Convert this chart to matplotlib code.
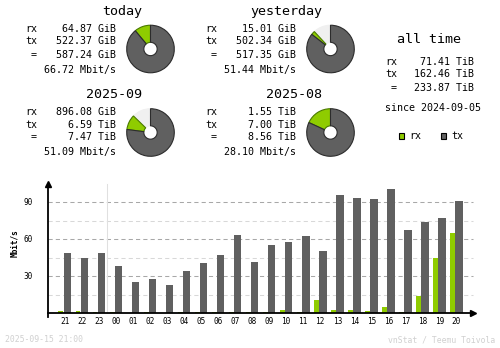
import numpy as np
import matplotlib
matplotlib.use("Agg")
import matplotlib.pyplot as plt

plt.rcParams['font.family'] = ['DejaVu Sans Mono']

RX_COLOR = "#8fcc00"
TX_COLOR = "#606060"
GAP_COLOR = "#f0f0f0"

# summary blocks
periods = ["today", "yesterday", "2025-09", "2025-08"]
rx_vals = [64.87, 15.01, 896.08, 1.55]
rx_units = ["GiB", "GiB", "GiB", "TiB"]
tx_vals = [522.37, 502.34, 6.59, 7.00]
tx_units = ["GiB", "GiB", "TiB", "TiB"]
tot_vals = [587.24, 517.35, 7.47, 8.56]
tot_units = ["GiB", "GiB", "TiB", "TiB"]
rates = [66.72, 51.44, 51.09, 28.10]

alltime_rx = 71.41
alltime_tx = 162.46
alltime_tot = 233.87
since = "2024-09-05"

# hourly average rates, Mbit/s
hours = ["21", "22", "23", "00", "01", "02", "03", "04", "05", "06", "07", "08",
         "09", "10", "11", "12", "13", "14", "15", "16", "17", "18", "19", "20"]
rx_rate = [1.6, 1.6, 0.8, 0.8, 0.0, 0.8, 0.0, 0.8, 0.8, 0.8, 0.8, 0.8,
           0.8, 2.5, 0.8, 10.8, 2.5, 2.5, 1.6, 5.0, 0.8, 14.0, 44.8, 65.1]
tx_rate = [48.9, 44.8, 48.9, 38.4, 25.4, 27.8, 23.0, 34.3, 40.8, 47.3, 63.5, 41.6,
           55.4, 57.8, 62.7, 50.5, 95.9, 93.5, 92.7, 100.8, 67.6, 74.1, 77.3, 91.1]

W, H = 500, 348
fig = plt.figure(figsize=(W / 100, H / 100), dpi=100)
fig.patch.set_facecolor("white")

# pixel-space canvas for text
bg = fig.add_axes([0, 0, 1, 1])
bg.set_xlim(0, W)
bg.set_ylim(H, 0)
bg.axis("off")


def to_tib(v, u):
    return v / 1024 if u == "GiB" else v


def pie_at(cx, cy, r, gap, rx, tx):
    ax = fig.add_axes([(cx - r) / W, (H - cy - r) / H, 2 * r / W, 2 * r / H])
    wedges, _ = ax.pie([gap, rx, tx], colors=[GAP_COLOR, RX_COLOR, TX_COLOR],
                       startangle=90, counterclock=True,
                       wedgeprops=dict(width=0.72, linewidth=0.8))
    wedges[0].set_edgecolor(GAP_COLOR)
    wedges[1].set_edgecolor("#4a7a00")
    wedges[2].set_edgecolor("#2c2c2c")
    ax.set_xlim(-1.03, 1.03)
    ax.set_ylim(-1.03, 1.03)
    ax.axis("off")


small = 7.2
title = 9.6
cols = [(25, 115.5, 142, 150.5), (205, 295.5, 322, 330.5)]
rows = [(12, 29.5, 41.5, 55, 69.5, 49), (94.5, 112, 124.5, 137.5, 152.5, 132.5)]

totals_tib = [to_tib(v, u) for v, u in zip(tot_vals, tot_units)]
for i, name in enumerate(periods):
    lx, rxp, tx_right, pcx = cols[i % 2]
    ty, y1, y2, y3, y4, pcy = rows[i // 2]
    bg.text(tx_right, ty, name, fontsize=title, ha="right", va="center")
    bg.text(lx, y1, "rx", fontsize=small, va="center")
    bg.text(lx, y2, "tx", fontsize=small, va="center")
    bg.text(lx, y3, " =", fontsize=small, va="center")
    bg.text(rxp, y1, f"{rx_vals[i]:.2f} {rx_units[i]}", fontsize=small, ha="right", va="center")
    bg.text(rxp, y2, f"{tx_vals[i]:.2f} {tx_units[i]}", fontsize=small, ha="right", va="center")
    bg.text(rxp, y3, f"{tot_vals[i]:.2f} {tot_units[i]}", fontsize=small, ha="right", va="center")
    bg.text(rxp, y4, f"{rates[i]:.2f} Mbit/s", fontsize=small, ha="right", va="center")
    pair = totals_tib[(i // 2) * 2:(i // 2) * 2 + 2]
    gap = max(pair) - totals_tib[i]
    pie_at(pcx, pcy, 24.5, gap, to_tib(rx_vals[i], rx_units[i]),
           to_tib(tx_vals[i], tx_units[i]))

# all time block
bg.text(429, 39.5, "all time", fontsize=title, ha="center", va="center")
bg.text(385, 62, "rx", fontsize=small, va="center")
bg.text(385, 74, "tx", fontsize=small, va="center")
bg.text(385, 88, " =", fontsize=small, va="center")
bg.text(474, 62, f"{alltime_rx:.2f} TiB", fontsize=small, ha="right", va="center")
bg.text(474, 74, f"{alltime_tx:.2f} TiB", fontsize=small, ha="right", va="center")
bg.text(474, 88, f"{alltime_tot:.2f} TiB", fontsize=small, ha="right", va="center")
bg.text(385, 108, f"since {since}", fontsize=small, va="center")

# legend
for x0, col, lab in [(398.5, RX_COLOR, "rx"), (440.5, TX_COLOR, "tx")]:
    bg.add_patch(plt.Rectangle((x0, 133), 5.5, 5.5, facecolor=col,
                               edgecolor="black", linewidth=0.8))
    bg.text(x0 + 10.5, 136, lab, fontsize=small, va="center")

# hourly bar chart
x0_px, x1_px = 48, 476
y0_px, y1_px = 313.3, 181.7
ax = fig.add_axes([x0_px / W, (H - y0_px) / H, (x1_px - x0_px) / W, (y0_px - y1_px) / H])
ax.set_xlim(-0.98, 24.15)
ax.set_ylim(0, 106.7)
ax.axis("off")

x = np.arange(len(hours))
for v in [15, 45, 75]:
    ax.plot([-0.98, 23.95], [v, v], color="#d8d8d8", lw=0.75, dashes=(4, 3), zorder=1)
for v in [30, 60, 90]:
    ax.plot([-0.98, 23.95], [v, v], color="#a8a8a8", lw=0.75, dashes=(4, 3), zorder=1)
ax.plot([2.5, 2.5], [0, 105], color="#e0e0e0", lw=0.75, zorder=1)

ax.bar(x - 0.22, rx_rate, width=0.29, color=RX_COLOR, zorder=2)
ax.bar(x + 0.155, tx_rate, width=0.44, color=TX_COLOR, zorder=2)

ax.plot([-0.98, 24.0], [0, 0], color="black", lw=1.3, zorder=3, clip_on=False)
ax.plot([-0.98, -0.98], [-3, 105], color="black", lw=1.3, zorder=3, clip_on=False)
ax.plot([-0.98], [105], marker="^", color="black", ms=4, clip_on=False, zorder=4)
ax.plot([24.0], [0], marker=">", color="black", ms=4, clip_on=False, zorder=4)

for v in [30, 60, 90]:
    bg.text(32.5, y0_px - v * (y0_px - y1_px) / 106.7, str(v), fontsize=5.6,
            ha="right", va="center")
for i, h in enumerate(hours):
    bg.text(64.7 + i * 17.03, 321.5, h, fontsize=5.6, ha="center", va="center")
bg.text(15, 243, "Mbit/s", fontsize=5.6, rotation=90, ha="center", va="center",
        fontweight="bold")

# footer
bg.text(5, 340, "2025-09-15 21:00", fontsize=5.9, color="#d0d0d0", va="center")
bg.text(495, 340, "vnStat / Teemu Toivola", fontsize=5.9, color="#d0d0d0",
        ha="right", va="center")

fig.savefig("out.png", dpi=100, facecolor="white")
